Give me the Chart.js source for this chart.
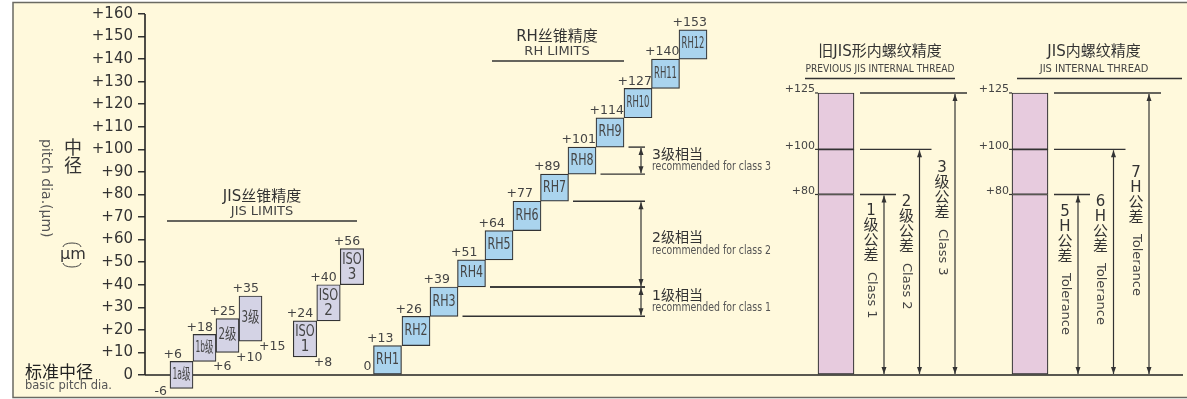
<!DOCTYPE html>
<html>
<head>
<meta charset="utf-8">
<script src="https://cdn.jsdelivr.net/npm/chart.js@4.4.1/dist/chart.umd.min.js"></script>
<style>
  html, body { margin: 0; padding: 0; background: #fff; }
  canvas { display: block; }
</style>
</head>
<body>
<canvas id="chart" width="1187" height="399"></canvas>
<script>
// ---- data ----
const yTicks = [0, 10, 20, 30, 40, 50, 60, 70, 80, 90, 100, 110, 120, 130, 140, 150, 160];

const jisNames = ['1a级', '1b级', '2级', '3级'];
const jisLow = [-6, 6, 10, 15];
const jisHigh = [6, 18, 25, 35];
const jisPos = [36.5, 59.5, 82.5, 105.5];

const isoNames = ['ISO\n1', 'ISO\n2', 'ISO\n3'];
const isoLow = [8, 24, 40];
const isoHigh = [24, 40, 56];
const isoPos = [160, 183.5, 207];

const rhNames = ['RH1', 'RH2', 'RH3', 'RH4', 'RH5', 'RH6', 'RH7', 'RH8', 'RH9', 'RH10', 'RH11', 'RH12'];
const rhLow = [0, 13, 26, 39, 51, 64, 77, 89, 101, 114, 127, 140];
const rhHigh = [13, 26, 39, 51, 64, 77, 89, 101, 114, 127, 140, 153];
const rhPos = [242.5, 271, 299, 326.5, 354, 382, 409.5, 437, 465, 493, 520.5, 548];

const innerPos = [691, 885];
const innerLevels = [0, 80, 100, 125];
const oldClassCn = ['1级公差', '2级公差', '3级公差'];
const oldClassEn = ['Class 1', 'Class 2', 'Class 3'];
const newClassCn = ['5H公差', '6H公差', '7H公差'];
const newClassEn = ['Tolerance', 'Tolerance', 'Tolerance'];

const recHigh = [101, 77, 39];
const recLow = [89, 39, 26];
const recCn = ['3级相当', '2级相当', '1级相当'];
const recEn = ['recommended for class 3', 'recommended for class 2', 'recommended for class 1'];

// ---- helpers ----
const CJK = '"Noto Sans CJK SC"';
const fmt = v => (v > 0 ? '+' + v : String(v));

function txt(ctx, s, x, y, font, color, align, base, maxW) {
  ctx.font = font;
  ctx.fillStyle = color;
  ctx.textAlign = align || 'left';
  ctx.textBaseline = base || 'middle';
  if (maxW) ctx.fillText(s, x, y, maxW); else ctx.fillText(s, x, y);
}
function line(ctx, x1, y1, x2, y2, w, c) {
  ctx.beginPath();
  ctx.lineWidth = w || 1.3;
  ctx.strokeStyle = c || '#333';
  ctx.moveTo(x1, y1);
  ctx.lineTo(x2, y2);
  ctx.stroke();
}
function head(ctx, x, y, dir) {
  ctx.beginPath();
  ctx.fillStyle = '#333';
  ctx.moveTo(x, y);
  ctx.lineTo(x - 2.5, y - dir * 7);
  ctx.lineTo(x + 2.5, y - dir * 7);
  ctx.closePath();
  ctx.fill();
}
function dblArrow(ctx, x, yTop, yBot) {
  line(ctx, x, yTop, x, yBot, 1.2, '#333');
  head(ctx, x, yTop, -1);
  head(ctx, x, yBot, 1);
}
function box(el) {
  return {
    left: el.x - el.width / 2, right: el.x + el.width / 2,
    top: Math.min(el.y, el.base), bottom: Math.max(el.y, el.base), cx: el.x,
  };
}
function vText(ctx, cn, en, cx, y0) {
  const chars = [...cn];
  chars.forEach((ch, k) => txt(ctx, ch, cx, y0 + k * 15, '15px "DejaVu Sans", ' + CJK, '#333', 'center', 'middle'));
  const yEn = y0 + (chars.length - 1) * 15 + 16;
  ctx.save();
  ctx.translate(cx, yEn);
  ctx.rotate(Math.PI / 2);
  txt(ctx, en, 0, 0, '13px "DejaVu Sans"', '#444', 'left', 'middle');
  ctx.restore();
}

const headings = [
  { cn: 'JIS丝锥精度', en: 'JIS LIMITS', x: 262, y1: 197, y2: 212, l: [167, 357, 221] },
  { cn: 'RH丝锥精度', en: 'RH LIMITS', x: 557, y1: 37, y2: 52, l: [492, 624, 61] },
  { cn: '旧JIS形内螺纹精度', en: 'PREVIOUS JIS INTERNAL THREAD', x: 880, y1: 52, y2: 69, l: [805, 955, 78.5], w: 149 },
  { cn: 'JIS内螺纹精度', en: 'JIS INTERNAL THREAD', x: 1094, y1: 52, y2: 69, l: [1017, 1182, 78.5], w: 139 },
];
const vStart = [[211, 202, 168], [212, 202, 173]];

const overlay = {
  id: 'overlay',
  beforeDraw(chart) {
    const ctx = chart.ctx;
    ctx.save();
    ctx.fillStyle = '#fff';
    ctx.fillRect(0, 0, chart.width, chart.height);
    ctx.fillStyle = '#FFF9DC';
    ctx.fillRect(13, 2.5, 1185, 395);
    ctx.strokeStyle = '#6a6a62';
    ctx.lineWidth = 1.5;
    ctx.strokeRect(13, 2.5, 1185, 395);
    ctx.restore();
  },
  beforeDatasetsDraw(chart) {
    const ctx = chart.ctx, ys = chart.scales.y, a = chart.chartArea;
    ctx.save();
    line(ctx, a.left, ys.getPixelForValue(0), a.right, ys.getPixelForValue(0), 1.6, '#222');
    line(ctx, a.left, ys.getPixelForValue(0), a.left, ys.getPixelForValue(yTicks[yTicks.length - 1]), 1.6, '#222');
    ctx.restore();
  },
  afterDatasetsDraw(chart) {
    const ctx = chart.ctx, ys = chart.scales.y;
    const Y = v => ys.getPixelForValue(v);
    const lblFont = '12.5px "DejaVu Sans"';
    const inFont = '15px "Liberation Sans Narrow", "DejaVu Sans Condensed", ' + CJK;
    ctx.save();

    // JIS / ISO / RH step bars
    const groups = [
      { meta: chart.getDatasetMeta(0), names: jisNames, low: jisLow, high: jisHigh, lowSide: ['below', 'right', 'right', 'right'] },
      { meta: chart.getDatasetMeta(1), names: isoNames, low: isoLow, high: isoHigh, lowSide: ['right', null, null] },
      { meta: chart.getDatasetMeta(2), names: rhNames, low: rhLow, high: rhHigh, lowSide: ['left'] },
    ];
    groups.forEach(g => {
      g.meta.data.forEach((el, i) => {
        const b = box(el);
        const parts = g.names[i].split('\n');
        const my = (b.top + b.bottom) / 2;
        if (parts.length === 2) {
          txt(ctx, parts[0], b.cx, my - 7, inFont, '#444', 'center', 'middle', b.right - b.left - 4);
          txt(ctx, parts[1], b.cx, my + 8, inFont, '#444', 'center', 'middle');
        } else {
          txt(ctx, parts[0], b.cx, my, inFont, '#444', 'center', 'middle', b.right - b.left - 5);
        }
        txt(ctx, fmt(g.high[i]), b.left - 6.5, b.top - 7, lblFont, '#444', 'left', 'middle');
        const side = g.lowSide[i];
        if (side === 'right') txt(ctx, fmt(g.low[i]), b.right - 3, b.bottom + 5.5, lblFont, '#444', 'left', 'middle');
        if (side === 'below') txt(ctx, fmt(g.low[i]), b.left - 3, b.bottom + 3, lblFont, '#444', 'right', 'middle');
        if (side === 'left') txt(ctx, fmt(g.low[i]), b.left - 2, b.bottom - 7, lblFont, '#444', 'right', 'middle');
      });
    });

    // recommended brackets beside RH bars
    const rhMeta = chart.getDatasetMeta(2);
    const startFor = lv => box(rhMeta.data[rhLow.indexOf(lv)]).right + 4.5;
    const bx = 641;
    recHigh.forEach((hi, k) => {
      const lo = recLow[k];
      line(ctx, startFor(hi), Y(hi), bx + 4, Y(hi), 1.4, '#333');
      line(ctx, startFor(lo), Y(lo), bx + 4, Y(lo), 1.4, '#333');
      dblArrow(ctx, bx, Y(hi) + 1, Y(lo) - 1);
      const mid = (Y(hi) + Y(lo)) / 2;
      txt(ctx, recCn[k], 652, mid - 5.5, '14px "DejaVu Sans", ' + CJK, '#333', 'left', 'middle');
      txt(ctx, recEn[k], 652, mid + 6.5, '12px "Liberation Sans Narrow", "DejaVu Sans Condensed"', '#555', 'left', 'middle', 119);
    });

    // internal thread columns
    const inMeta = chart.getDatasetMeta(3);
    innerPos.forEach((p, c) => {
      const segs = inMeta.data.slice(c * 3, c * 3 + 3).map(box);
      const left = segs[0].left, right = segs[0].right;
      const cn = c === 0 ? oldClassCn : newClassCn;
      const en = c === 0 ? oldClassEn : newClassEn;
      innerLevels.slice(1).forEach((lv, k) => {
        txt(ctx, fmt(lv), left - 3, Y(lv) - 0.5, '11px "DejaVu Sans"', '#444', 'right', 'alphabetic');
        line(ctx, left - 3, Y(lv), left, Y(lv), 1.2, '#333');
        const ax = right + 30 + k * 35.5;
        line(ctx, right + 6, Y(lv), ax + 12, Y(lv), 1.4, '#333');
        dblArrow(ctx, ax, Y(lv) + 1, Y(0) - 1);
        vText(ctx, cn[k], en[k], ax - 13, vStart[c][k]);
      });
    });

    // headings
    headings.forEach(h => {
      txt(ctx, h.cn, h.x, h.y1, '15px "DejaVu Sans", ' + CJK, '#333', 'center', 'middle');
      const enFont = h.w ? '11px "DejaVu Sans Condensed", "DejaVu Sans"' : '13px "DejaVu Sans"';
      txt(ctx, h.en, h.x, h.y2, enFont, '#444', 'center', 'middle', h.w);
      line(ctx, h.l[0], h.l[2], h.l[1], h.l[2], 1.4, '#333');
    });

    // left axis titles
    txt(ctx, '中', 73, 147.5, '18px ' + CJK, '#333', 'center', 'middle');
    txt(ctx, '径', 73, 165, '18px ' + CJK, '#333', 'center', 'middle');
    txt(ctx, 'μm', 73, 255, '16px "DejaVu Sans"', '#333', 'center', 'middle');
    ctx.beginPath();
    ctx.lineWidth = 1; ctx.strokeStyle = '#444';
    ctx.ellipse(72, 247, 9, 4, 0, Math.PI, 2 * Math.PI);
    ctx.stroke();
    ctx.beginPath();
    ctx.ellipse(72, 263, 9, 4, 0, 0, Math.PI);
    ctx.stroke();
    ctx.save();
    ctx.translate(46, 139);
    ctx.rotate(Math.PI / 2);
    txt(ctx, 'pitch dia.(μm)', 0, 0, '14px "DejaVu Sans"', '#555', 'left', 'middle', 99);
    ctx.restore();
    txt(ctx, '标准中径', 25, 372, '17px ' + CJK, '#222', 'left', 'middle');
    txt(ctx, 'basic pitch dia.', 25, 386, '11.5px "DejaVu Sans"', '#555', 'left', 'middle', 88);

    ctx.restore();
  },
};

// ---- datasets ----
const common = { stack: 'all', borderColor: '#333', borderWidth: 1.2, borderSkipped: false, clip: false };
const jisData = jisPos.map((x, i) => ({ x, y: [jisLow[i], jisHigh[i]] }));
const isoData = isoPos.map((x, i) => ({ x, y: [isoLow[i], isoHigh[i]] }));
const rhData = rhPos.map((x, i) => ({ x, y: [rhLow[i], rhHigh[i]] }));
const innerData = [];
innerPos.forEach(x => {
  for (let k = 0; k < innerLevels.length - 1; k++) innerData.push({ x, y: [innerLevels[k], innerLevels[k + 1]] });
});

new Chart(document.getElementById('chart'), {
  type: 'bar',
  data: {
    datasets: [
      { ...common, label: 'JIS', data: jisData, backgroundColor: '#D4D3E5', barThickness: 23 },
      { ...common, label: 'ISO', data: isoData, backgroundColor: '#D4D3E5', barThickness: 23.5 },
      { ...common, label: 'RH', data: rhData, backgroundColor: '#AAD4EE', barThickness: 28 },
      { ...common, label: 'inner', data: innerData, backgroundColor: '#E7CBDE', barThickness: 36 },
    ],
  },
  options: {
    responsive: false, devicePixelRatio: 1, animation: false, events: [],
    layout: { padding: { left: 0, right: 4, top: 14, bottom: 6 } },
    plugins: { legend: { display: false }, tooltip: { enabled: false } },
    scales: {
      x: { type: 'linear', min: 0, max: 1038, display: false, offset: false },
      y: {
        type: 'linear', min: -8, max: 160, stacked: false,
        afterFit: s => { s.width = 145; s.paddingTop = 0; s.paddingBottom = 0; },
        afterBuildTicks: s => { s.ticks = yTicks.map(v => ({ value: v })); },
        border: { display: false },
        grid: { drawOnChartArea: false, drawTicks: true, tickLength: 7, color: '#333', lineWidth: 1.5 },
        ticks: {
          autoSkip: false, padding: 5, color: '#333',
          font: { family: 'DejaVu Sans', size: 15 },
          callback: v => fmt(v),
        },
      },
    },
  },
  plugins: [overlay],
});
</script>
</body>
</html>
